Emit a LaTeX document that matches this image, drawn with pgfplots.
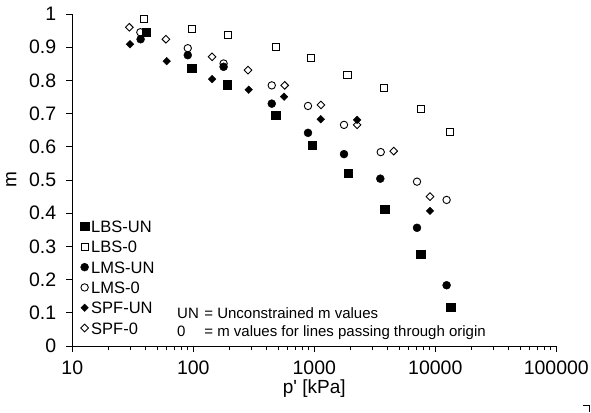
\documentclass[border=0pt]{standalone}
\usepackage{pgfplots}
\pgfplotsset{compat=1.18}
\usepackage{pgfplotstable}
\usepackage{fontspec}
\setmainfont{Liberation Sans}

\pgfplotstableread{
p m
41 0.945
97 0.837
192 0.787
480 0.696
957 0.605
1920 0.520
3820 0.412
7570 0.277
13400 0.118
}\lbsun
\pgfplotstableread{
p m
39.4 0.984
97.5 0.956
192 0.936
480 0.900
944 0.867
1880 0.816
3790 0.778
7570 0.713
13200 0.644
}\lbszero
\pgfplotstableread{
p m
36.7 0.924
90 0.876
178 0.841
445 0.730
887 0.642
1760 0.578
3510 0.504
7060 0.356
12400 0.183
}\lmsun
\pgfplotstableread{
p m
36.5 0.945
90 0.897
178 0.851
445 0.785
887 0.723
1760 0.666
3540 0.584
7060 0.495
12400 0.440
}\lmszero
\pgfplotstableread{
p m
30 0.909
60.3 0.858
143 0.804
287 0.772
562 0.751
1130 0.683
2260 0.681
9040 0.407
}\spfun
\pgfplotstableread{
p m
29.6 0.960
59.4 0.924
143 0.871
283 0.831
569 0.785
1135 0.726
2260 0.666
4530 0.587
9040 0.450
}\spfzero

\begin{document}
\begin{tikzpicture}
\useasboundingbox (0,0) rectangle (591pt,412pt);
\begin{axis}[
  at={(72.3pt,66pt)}, anchor=south west,
  scale only axis, width=484pt, height=332pt,
  xmode=log, xmin=10, xmax=100000,
  ymin=0, ymax=1,
  axis x line*=bottom, axis y line*=left,
  axis line style={-, line width=0.8pt},
  xtick={10,100,1000,10000,100000},
  xticklabels={10,100,1000,10000,100000},
  ytick={0,0.1,0.2,0.3,0.4,0.5,0.6,0.7,0.8,0.9,1},
  yticklabels={0,0.1,0.2,0.3,0.4,0.5,0.6,0.7,0.8,0.9,1},
  tick align=outside,
  major tick length=6pt, minor tick length=4pt,
  tick style={black, line width=0.8pt},
  minor tick style={line width=0.6pt},
  /pgf/number format/assume math mode=true,
  tick label style={font=\fontsize{19.5}{21}\selectfont},
  yticklabel style={inner sep=0pt, xshift=-10pt},
  xticklabel style={inner sep=0pt, yshift=-9pt},
  xlabel={p\textquotesingle{} [kPa]},
  ylabel={m},
  label style={font=\fontsize{19}{21}\selectfont},
  xlabel style={at={([yshift=-47pt]axis description cs:0.5,0)}, anchor=base, inner sep=0pt},
  ylabel style={at={([xshift=-61pt]axis description cs:0,0.5)}, anchor=center, inner sep=0pt},
  clip=false,
  legend cell align=left,
  legend image code/.code={\draw[mark repeat=2,mark phase=2,#1] plot coordinates {(0pt,0pt)(4pt,0pt)(8pt,0pt)};},
  legend style={at={(axis description cs:0.017,0.036)}, anchor=south west,
    draw=none, fill=none, inner sep=0pt, outer sep=0pt,
    font=\fontsize{16.5}{18}\selectfont,
    row sep=8.3pt, column sep=2.5pt,
    nodes={inner sep=0pt, text height=12pt, text depth=0pt}},
]
\addplot[only marks, mark=square*, mark size=4.1pt, black, fill=black] table[x=p,y=m] {\lbsun};
\addlegendentry{LBS-UN}
\addplot[only marks, mark=square, mark size=3.6pt, line width=0.9pt, black, fill=white] table[x=p,y=m] {\lbszero};
\addlegendentry{LBS-0}
\addplot[only marks, mark=*, mark size=4pt, black, fill=black] table[x=p,y=m] {\lmsun};
\addlegendentry{LMS-UN}
\addplot[only marks, mark=o, mark size=3.7pt, line width=0.9pt, black, fill=white] table[x=p,y=m] {\lmszero};
\addlegendentry{LMS-0}
\addplot[only marks, mark=square*, mark options={rotate=45}, mark size=2.7pt, black, fill=black] table[x=p,y=m] {\spfun};
\addlegendentry{SPF-UN}
\addplot[only marks, mark=square, mark options={rotate=45}, mark size=2.7pt, line width=0.9pt, black, fill=white] table[x=p,y=m] {\spfzero};
\addlegendentry{SPF-0}
\end{axis}
\node[anchor=base west, inner sep=0pt, font=\fontsize{15}{18.4}\selectfont] at (177pt,93.7pt)
  {\begin{tabular}[t]{@{}l@{\hspace{5.5pt}}l@{}}UN & = Unconstrained m values\\ 0 & = m values for lines passing through origin\end{tabular}};
\draw[line width=0.9pt] (582.7pt,7pt) -- (589.3pt,7pt) -- (589.3pt,0pt);
\end{tikzpicture}
\end{document}
